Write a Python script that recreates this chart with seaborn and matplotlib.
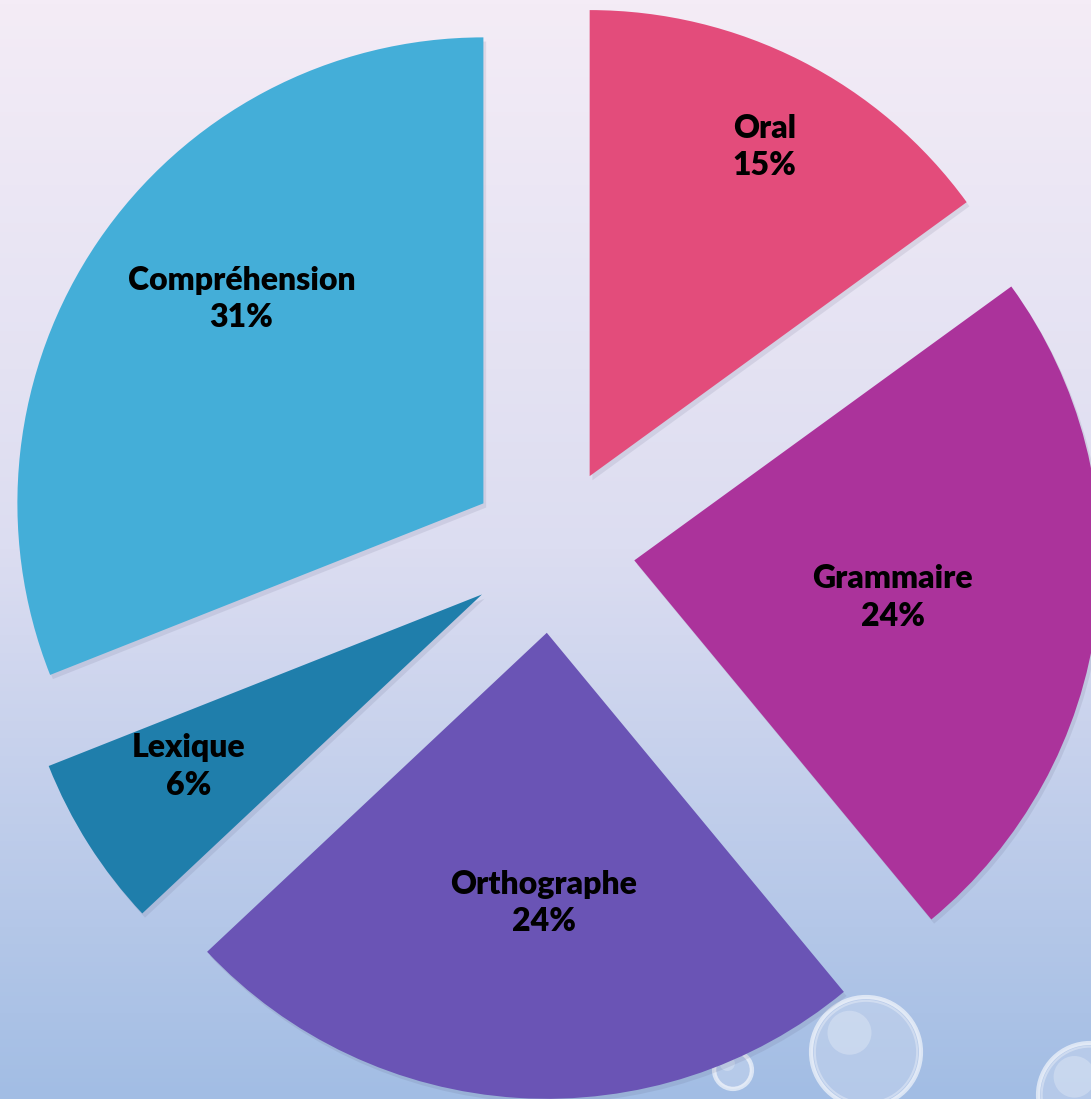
import numpy as np
import matplotlib
matplotlib.use("Agg")
import matplotlib.pyplot as plt
import matplotlib.patheffects as pe
from matplotlib.colors import LinearSegmentedColormap
from matplotlib.patches import Circle
import seaborn as sns

# Data
categories = ["Oral", "Grammaire", "Orthographe", "Lexique", "Compréhension"]
values = [15, 24, 24, 6, 31]
colors = ["#E34C7B", "#AB339B", "#6A54B5", "#1F7EAB", "#44AED8"]

# label placement (fraction of radius from each exploded wedge centre, angle tweak in degrees)
label_r = [0.80, 0.56, 0.58, 0.73, 0.68]
label_tweak = [-1, -1, 3, -2, -6]

sns.set_theme(style="white")
plt.rcParams['font.family'] = ['Lato', 'DejaVu Sans']

W, H = 1091, 1099
cx, cy, R = 552, 550, 466  # pixel centre & radius of the pie

fig = plt.figure(figsize=(W / 100, H / 100), dpi=100)
ax = fig.add_axes([0, 0, 1, 1])

x0, x1 = -cx / R, (W - cx) / R
y0, y1 = -(H - cy) / R, cy / R

# background gradient
bg = LinearSegmentedColormap.from_list("bg", ["#F4ECF6", "#DCDDF1", "#A2BDE4"])
grad = np.linspace(0, 1, 256).reshape(-1, 1)
ax.imshow(grad, cmap=bg, extent=[x0, x1, y0, y1], aspect="auto", zorder=0, origin="upper")

# decorative bubbles
def bubble(px, py, pr, z):
    xy = ((px - cx) / R, (cy - py) / R)
    ax.add_patch(Circle(xy, pr / R, facecolor="#C8D6EE", alpha=0.5, edgecolor="none", zorder=z))
    ax.add_patch(Circle(xy, pr / R, facecolor="none", edgecolor="white", lw=3, alpha=0.6, zorder=z))
    ax.add_patch(Circle(xy, pr * 0.93 / R, facecolor="none", edgecolor="#E6ECF7", lw=1.5,
                        alpha=0.5, zorder=z))
    ax.add_patch(Circle(((px - cx - pr * 0.3) / R, (cy - py + pr * 0.35) / R), pr * 0.4 / R,
                        facecolor="white", alpha=0.25, edgecolor="none", zorder=z))

bubble(866, 1052, 55, 1)
bubble(733, 1070, 19, 1)
bubble(1090, 1095, 52, 1)

wedges, texts = ax.pie(values, labels=None, colors=colors, startangle=90, counterclock=False,
                       explode=[0.178] * len(values), radius=1, center=(0, 0),
                       wedgeprops=dict(linewidth=0, zorder=2), frame=True)

for w in wedges:
    w.set_zorder(2)
    w.set_path_effects([pe.SimplePatchShadow(offset=(2, -3), alpha=0.12, shadow_rgbFace="#555577"),
                        pe.Normal()])

for w, name, v, lr, tw in zip(wedges, categories, values, label_r, label_tweak):
    th = np.deg2rad((w.theta1 + w.theta2) / 2 + tw)
    ox, oy = w.center
    ax.text(ox + lr * np.cos(th), oy + lr * np.sin(th), f"{name}\n{v}%",
            ha="center", va="center", fontsize=23, fontweight="heavy", color="black",
            linespacing=1.35, zorder=5)

ax.set_xlim(x0, x1)
ax.set_ylim(y0, y1)
ax.set_aspect("auto")
ax.axis("off")

fig.savefig("out.png", dpi=100)
